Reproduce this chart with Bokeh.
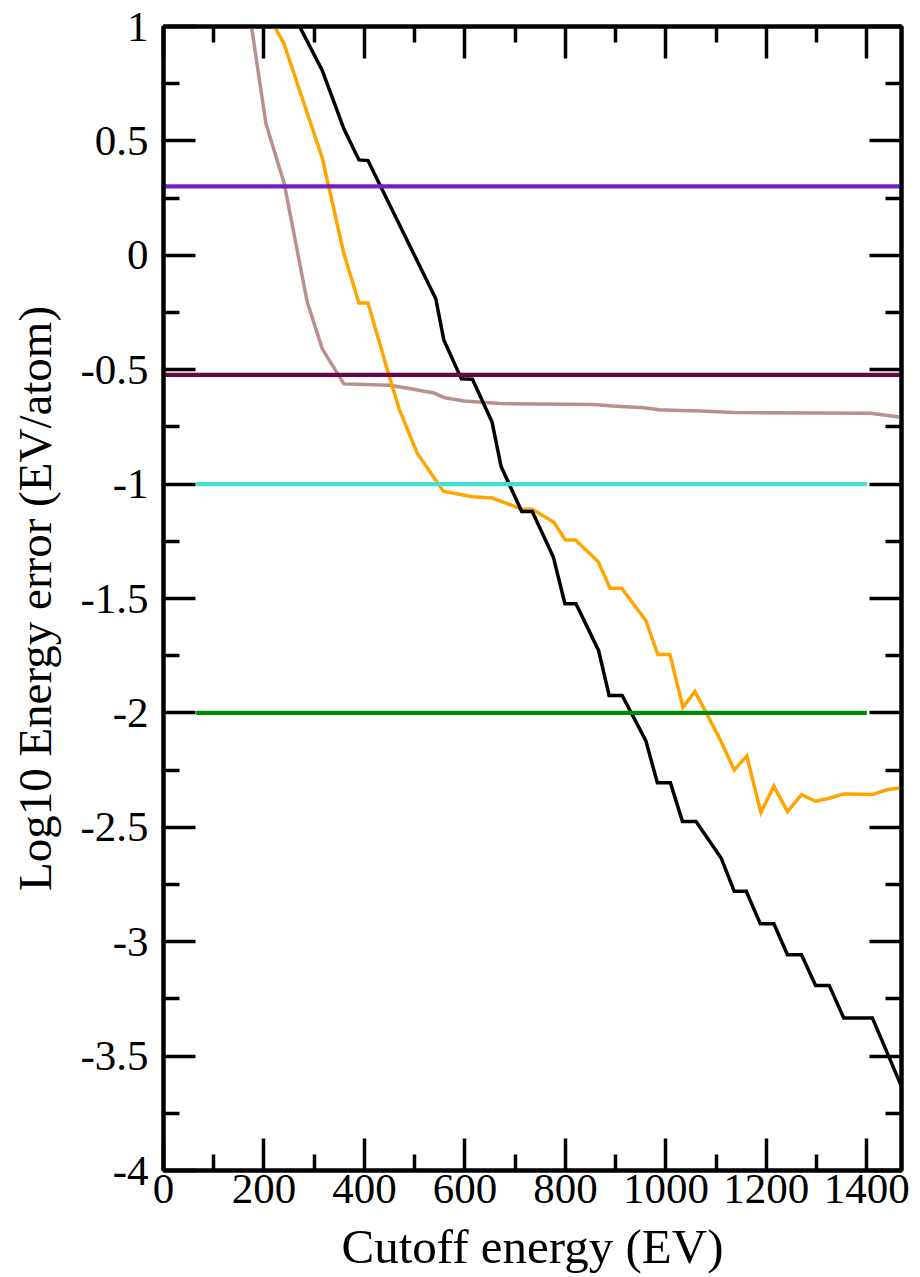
from bokeh.plotting import figure
from bokeh.models import (Range1d, FixedTicker, LinearAxis, CustomJSTickFormatter,
                          CustomLabelingPolicy)
from bokeh.embed import file_html
from bokeh.resources import INLINE

# ---------------- data ----------------
black_x = [240, 316, 359, 389, 407, 542, 558, 593, 615, 654, 672, 713, 734, 776, 799, 821,
           866, 887, 913, 960, 983, 1009, 1033, 1060, 1110, 1136, 1160, 1188, 1215, 1242,
           1270, 1298, 1325, 1354, 1411, 1468]
black_y = [1.132, 0.808, 0.553, 0.417, 0.414, -0.190, -0.370, -0.540, -0.542, -0.729, -0.923,
           -1.120, -1.120, -1.319, -1.523, -1.523, -1.727, -1.924, -1.924, -2.121, -2.305,
           -2.305, -2.475, -2.475, -2.634, -2.780, -2.780, -2.922, -2.922, -3.057, -3.057,
           -3.191, -3.191, -3.333, -3.333, -3.628]

orange_x = [204, 240, 316, 359, 389, 407, 447, 469, 505, 557, 615, 654, 714, 734, 777, 800,
            820, 865, 889, 912, 960, 984, 1008, 1034, 1058, 1109, 1136, 1161, 1189, 1215,
            1242, 1270, 1298, 1325, 1354, 1411, 1440, 1468]
orange_y = [1.068, 0.924, 0.425, 0.008, -0.209, -0.209, -0.511, -0.671, -0.865, -1.031,
            -1.055, -1.061, -1.110, -1.110, -1.167, -1.244, -1.244, -1.338, -1.455, -1.455,
            -1.596, -1.745, -1.745, -1.975, -1.906, -2.121, -2.250, -2.188, -2.435, -2.320,
            -2.431, -2.357, -2.386, -2.373, -2.354, -2.357, -2.336, -2.327]

brown_x = [165, 204, 240, 286, 316, 359, 450, 492, 538, 560, 598, 671, 857, 893, 956, 986,
           1029, 1069, 1136, 1408, 1468]
brown_y = [1.148, 0.575, 0.316, -0.203, -0.409, -0.562, -0.568, -0.583, -0.602, -0.623,
           -0.637, -0.648, -0.652, -0.659, -0.666, -0.675, -0.678, -0.680, -0.687, -0.690,
           -0.708]

# reference levels
indigo_x = [0, 1469]
indigo_y = [0.301, 0.301]
maroon_x = [0, 1469]
maroon_y = [-0.523, -0.523]
turq_x = [65, 1400]
turq_y = [-1.0, -1.0]
green_x = [65, 1400]
green_y = [-2.0, -2.0]

x_major = [0, 200, 400, 600, 800, 1000, 1200, 1400]
x_minor = [100, 300, 500, 700, 900, 1100, 1300]
y_major = [1, 0.5, 0, -0.5, -1, -1.5, -2, -2.5, -3, -3.5, -4]
y_minor = [0.75, 0.25, -0.25, -0.75, -1.25, -1.75, -2.25, -2.75, -3.25, -3.75]

FONT = "Liberation Serif"

p = figure(width=912, height=1277, x_range=Range1d(0, 1469), y_range=Range1d(-4, 1),
           output_backend="svg", toolbar_location=None,
           min_border_left=163, min_border_right=11, min_border_top=26, min_border_bottom=107)
p.grid.visible = False
p.outline_line_color = "black"
p.outline_line_width = 4
p.background_fill_color = "white"
p.border_fill_color = "white"

p.line(brown_x, brown_y, line_color="#BC8F8F", line_width=3.5, line_join="miter")
p.line(orange_x, orange_y, line_color="#FFA500", line_width=3.5, line_join="miter")
p.line(black_x, black_y, line_color="black", line_width=3.5, line_join="miter")
p.line(indigo_x, indigo_y, line_color="#7221BC", line_width=4.2)
p.line(maroon_x, maroon_y, line_color="#670748", line_width=4.2)
p.line(turq_x, turq_y, line_color="#40E0D0", line_width=4.2)
p.line(green_x, green_y, line_color="#008B00", line_width=4.2)

fmt = CustomJSTickFormatter(code="return tick.toString();")
xt = FixedTicker(ticks=x_major, minor_ticks=x_minor)
yt = FixedTicker(ticks=y_major, minor_ticks=y_minor)


def style(ax, labels):
    ax.axis_line_width = 4
    ax.axis_line_color = "black"
    ax.major_tick_in = 32
    ax.major_tick_out = 0
    ax.minor_tick_in = 16
    ax.minor_tick_out = 0
    ax.major_tick_line_width = 3.5
    ax.minor_tick_line_width = 3.5
    ax.major_tick_line_color = "black"
    ax.minor_tick_line_color = "black"
    if labels:
        ax.formatter = fmt
        ax.major_label_text_font = FONT
        ax.major_label_text_font_size = "43px"
        ax.major_label_text_color = "black"
        ax.axis_label_text_font = FONT
        ax.axis_label_text_font_style = "normal"
        ax.axis_label_text_color = "black"
    else:
        ax.major_label_text_font_size = "2px"
        ax.major_label_standoff = 0
        ax.major_label_policy = CustomLabelingPolicy(
            code="for (const i of indices) indices.unset(i); return indices")


xa = p.xaxis[0]
xa.ticker = xt
style(xa, True)
xa.axis_label = "Cutoff energy (EV)"
xa.axis_label_text_font_size = "49px"
xa.major_label_standoff = 4
xa.axis_label_standoff = 13

ya = p.yaxis[0]
ya.ticker = yt
style(ya, True)
ya.axis_label = "Log10 Energy error (EV/atom)"
ya.axis_label_text_font_size = "47px"
ya.major_label_standoff = 15
ya.axis_label_standoff = 16

top = LinearAxis(ticker=xt)
style(top, False)
p.add_layout(top, "above")
right = LinearAxis(ticker=yt)
style(right, False)
p.add_layout(right, "right")

open("out.html", "w").write(file_html(p, INLINE))
